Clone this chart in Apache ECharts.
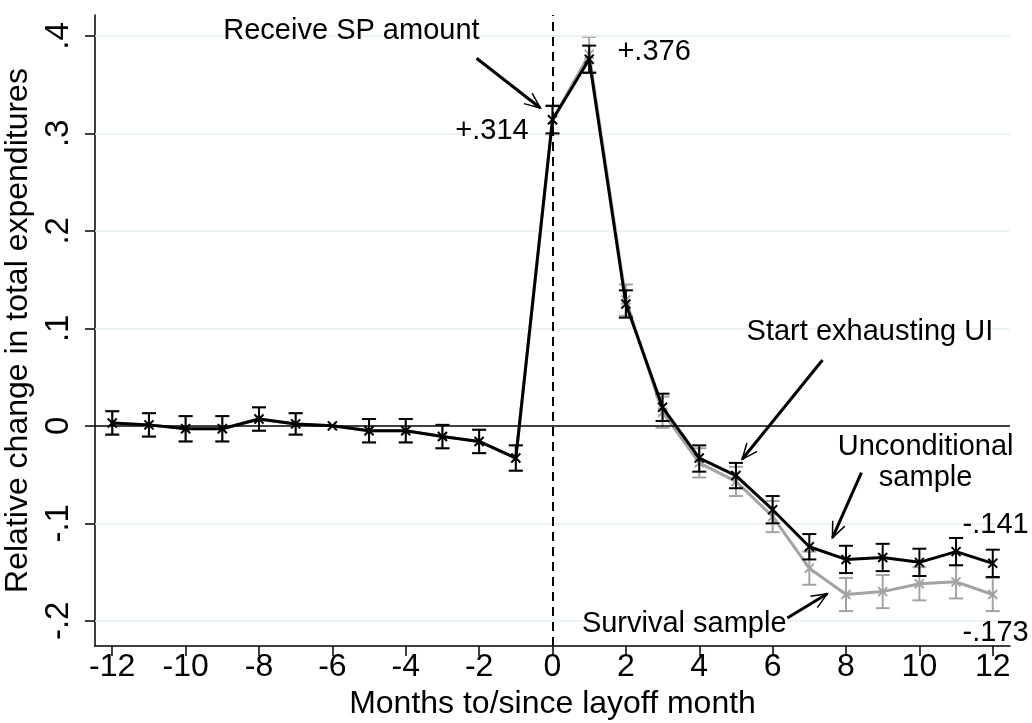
<!DOCTYPE html>
<html>
<head>
<meta charset="utf-8">
<script src="https://cdn.jsdelivr.net/npm/echarts@6/dist/echarts.min.js"></script>
<style>
html,body{margin:0;padding:0;background:#fff;}
#chart{width:1032px;height:723px;}
</style>
</head>
<body>
<div id="chart"></div>
<script>
const months = [-12,-11,-10,-9,-8,-7,-6,-5,-4,-3,-2,-1,0,1,2,3,4,5,6,7,8,9,10,11,12];

const uncond   = [0.003,0.001,-0.003,-0.003,0.007,0.002,0,-0.005,-0.005,-0.011,-0.016,-0.033,0.314,0.376,0.125,0.019,-0.033,-0.051,-0.086,-0.124,-0.137,-0.135,-0.140,-0.129,-0.141];
const uncondLo = [-0.009,-0.011,-0.016,-0.016,-0.005,-0.009,0,-0.017,-0.017,-0.023,-0.028,-0.046,0.300,0.362,0.111,0.005,-0.047,-0.064,-0.100,-0.137,-0.151,-0.149,-0.154,-0.143,-0.155];
const uncondHi = [0.015,0.013,0.010,0.010,0.019,0.013,0,0.007,0.007,0.001,-0.004,-0.020,0.328,0.390,0.139,0.033,-0.020,-0.038,-0.072,-0.111,-0.123,-0.121,-0.126,-0.115,-0.127];

const surv   = [0.003,0.001,-0.003,-0.003,0.007,0.002,0,-0.005,-0.005,-0.011,-0.016,-0.033,0.314,0.381,0.129,0.014,-0.038,-0.057,-0.093,-0.146,-0.173,-0.170,-0.162,-0.160,-0.173];
const survLo = [-0.009,-0.011,-0.016,-0.016,-0.005,-0.009,0,-0.017,-0.017,-0.023,-0.028,-0.046,0.299,0.363,0.113,-0.002,-0.053,-0.072,-0.109,-0.163,-0.190,-0.187,-0.179,-0.177,-0.190];
const survHi = [0.015,0.013,0.010,0.010,0.019,0.013,0,0.007,0.007,0.001,-0.004,-0.020,0.329,0.399,0.145,0.030,-0.023,-0.042,-0.077,-0.129,-0.156,-0.153,-0.145,-0.143,-0.156];

const xTicks = [-12,-10,-8,-6,-4,-2,0,2,4,6,8,10,12];
const yTicks = [-0.2,-0.1,0,0.1,0.2,0.3,0.4];
const yGrid = [-0.2,-0.1,0.1,0.2,0.3,0.4];

const notes = [
  {text:'Receive SP amount', x:-5.48, y:0.405, align:'center'},
  {text:'+.376', x:1.77, y:0.383, align:'left'},
  {text:'+.314', x:-0.65, y:0.302, align:'right'},
  {text:'Start exhausting UI', x:5.29, y:0.0966, align:'left'},
  {text:'Unconditional\nsample', x:10.17, y:-0.0377, align:'center'},
  {text:'-.141', x:12.98, y:-0.1017, align:'right'},
  {text:'Survival sample', x:6.38, y:-0.2035, align:'right'},
  {text:'-.173', x:12.98, y:-0.2124, align:'right'}
];
const arrows = [
  {from:[-2.07,0.377], to:[-0.33,0.326]},
  {from:[7.36,0.0675], to:[5.17,-0.0343]},
  {from:[8.42,-0.048], to:[7.63,-0.1148]},
  {from:[6.40,-0.197], to:[7.49,-0.1723]}
];

const FONT = '"Liberation Sans", Arial, Helvetica, sans-serif';
const BLACK = '#000000';
const GRAY = '#a3a3a3';

function fmtY(v){
  const r = Math.round(v*10)/10;
  if (r === 0) return '0';
  return (r < 0 ? '-' : '') + String(Math.abs(r)).replace(/^0/, '');
}

function errData(vals, lo, hi){
  return months.map((m,i)=>[m, lo[i], hi[i], vals[i]]);
}

function errRender(color){
  return function(params, api){
    const x = api.value(0), lo = api.value(1), hi = api.value(2), v = api.value(3);
    const pl = api.coord([x, lo]), ph = api.coord([x, hi]), p = api.coord([x, v]);
    const cap = 7, m = 4.5;
    const st = {stroke: color, lineWidth: 2, fill: null};
    const ch = [];
    if (hi !== lo) {
      ch.push({type:'line', shape:{x1:pl[0], y1:pl[1], x2:ph[0], y2:ph[1]}, style:st});
      ch.push({type:'line', shape:{x1:pl[0]-cap, y1:pl[1], x2:pl[0]+cap, y2:pl[1]}, style:st});
      ch.push({type:'line', shape:{x1:ph[0]-cap, y1:ph[1], x2:ph[0]+cap, y2:ph[1]}, style:st});
    }
    ch.push({type:'line', shape:{x1:p[0]-m, y1:p[1]-m, x2:p[0]+m, y2:p[1]+m}, style:st});
    ch.push({type:'line', shape:{x1:p[0]-m, y1:p[1]+m, x2:p[0]+m, y2:p[1]-m}, style:st});
    return {type:'group', children: ch};
  };
}

const chart = echarts.init(document.getElementById('chart'), null, {renderer:'canvas'});

const option = {
  animation: false,
  backgroundColor: '#ffffff',
  grid: {left: 95, right: 22, top: 15, bottom: 77, containLabel: false, outerBoundsMode: 'none'},
  xAxis: {
    type: 'value', min: -12.47, max: 12.47,
    name: 'Months to/since layoff month', nameLocation: 'middle', nameGap: 42,
    nameTextStyle: {fontFamily: FONT, fontSize: 32, color: BLACK},
    axisLine: {show: true, onZero: false, lineStyle: {color: BLACK, width: 1.5}},
    axisTick: {show: true, length: 10, lineStyle: {color: BLACK, width: 1.5}, customValues: xTicks},
    axisLabel: {fontFamily: FONT, fontSize: 32, color: BLACK, margin: 5, customValues: xTicks,
      formatter: v => String(v)},
    splitLine: {show: false}
  },
  yAxis: {
    type: 'value', min: -0.2258, max: 0.4214,
    name: 'Relative change in total expenditures', nameLocation: 'middle', nameGap: 58,
    nameTextStyle: {fontFamily: FONT, fontSize: 32, color: BLACK},
    axisLine: {show: true, onZero: false, lineStyle: {color: BLACK, width: 1.5}},
    axisTick: {show: true, length: 10, lineStyle: {color: BLACK, width: 1.5}, customValues: yTicks},
    axisLabel: {fontFamily: FONT, fontSize: 33, color: BLACK, rotate: 90, margin: 20, customValues: yTicks,
      formatter: fmtY},
    splitLine: {show: false}
  },
  series: [
    {
      type: 'line', data: [], z: 1, silent: true,
      markLine: {
        silent: true, symbol: ['none','none'], label: {show:false},
        lineStyle: {color: '#e6eff2', width: 1.5, type: 'solid'},
        data: yGrid.map(v => ({yAxis: v}))
      }
    },
    {
      type: 'line', data: [], z: 2, silent: true,
      markLine: {
        silent: true, symbol: ['none','none'], label: {show:false},
        data: [
          {yAxis: 0, lineStyle: {color: BLACK, width: 1.5, type: 'solid'}},
          {xAxis: 0, lineStyle: {color: BLACK, width: 2, type: [9, 6]}}
        ]
      }
    },
    {
      name: 'Survival sample', type: 'line', z: 3,
      data: months.map((m,i)=>[m, surv[i]]),
      showSymbol: false, symbol: 'none',
      lineStyle: {color: GRAY, width: 3}
    },
    {
      type: 'custom', z: 4, renderItem: errRender(GRAY),
      data: errData(surv, survLo, survHi),
      encode: {x: 0, y: [1,2,3]}
    },
    {
      name: 'Unconditional sample', type: 'line', z: 5,
      data: months.map((m,i)=>[m, uncond[i]]),
      showSymbol: false, symbol: 'none',
      lineStyle: {color: BLACK, width: 3}
    },
    {
      type: 'custom', z: 6, renderItem: errRender(BLACK),
      data: errData(uncond, uncondLo, uncondHi),
      encode: {x: 0, y: [1,2,3]}
    }
  ]
};

chart.setOption(option);

function px(pt){ return chart.convertToPixel({gridIndex: 0}, pt); }

const g = [];
notes.forEach(n => {
  const p = px([n.x, n.y]);
  g.push({
    type: 'text', z: 100, silent: true,
    style: {text: n.text, x: p[0], y: p[1], align: n.align, verticalAlign: 'middle',
      font: '29px ' + FONT, fill: BLACK, lineHeight: 31}
  });
});
arrows.forEach(a => {
  const s = px(a.from), e = px(a.to);
  const ang = Math.atan2(e[1]-s[1], e[0]-s[0]);
  const L = 17, spread = 0.40;
  const h1 = [e[0] - L*Math.cos(ang - spread), e[1] - L*Math.sin(ang - spread)];
  const h2 = [e[0] - L*Math.cos(ang + spread), e[1] - L*Math.sin(ang + spread)];
  g.push({type:'line', z:100, silent:true, shape:{x1:s[0], y1:s[1], x2:e[0], y2:e[1]},
    style:{stroke: BLACK, lineWidth: 3}});
  g.push({type:'polyline', z:100, silent:true, shape:{points:[h1, e, h2]},
    style:{stroke: BLACK, lineWidth: 1.5, fill: null}});
});
chart.setOption({graphic: g});
</script>
</body>
</html>
